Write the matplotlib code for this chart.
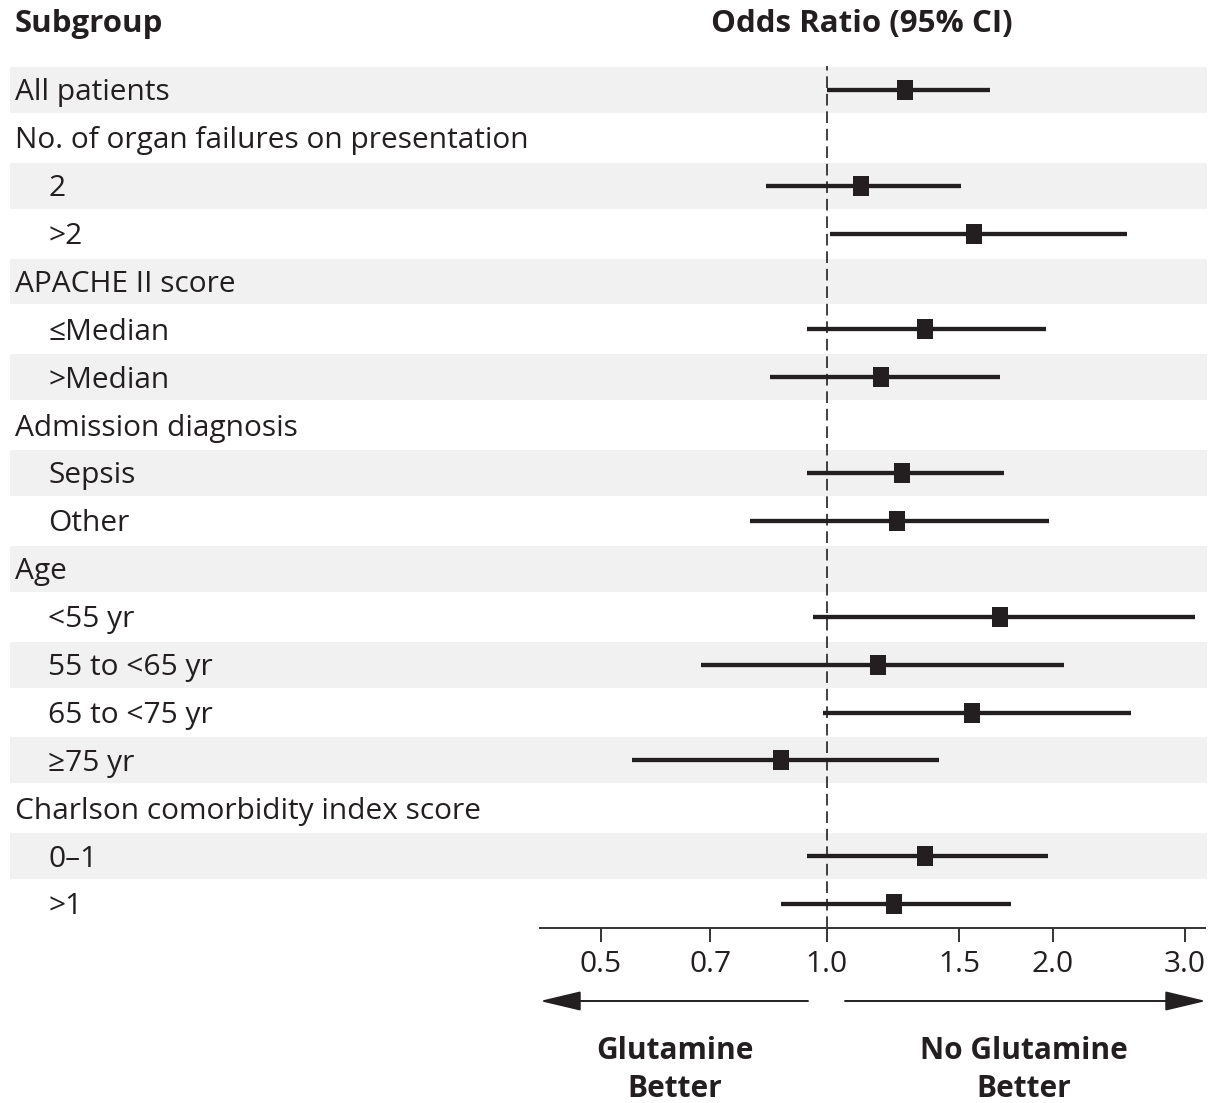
import numpy as np
import matplotlib
matplotlib.use("Agg")
import matplotlib.pyplot as plt
from matplotlib import transforms
from matplotlib.patches import FancyArrowPatch
from matplotlib.path import Path

plt.rcParams['font.family'] = ['Open Sans', 'DejaVu Sans']

# Subgroup rows (top to bottom); header rows have no estimate
labels = ["All patients", "No. of organ failures on presentation", "2", ">2",
          "APACHE II score", "\u2264Median", ">Median",
          "Admission diagnosis", "Sepsis", "Other",
          "Age", "<55 yr", "55 to <65 yr", "65 to <75 yr", "\u226575 yr",
          "Charlson comorbidity index score", "0\u20131", ">1"]
indented = [False, False, True, True,
            False, True, True,
            False, True, True,
            False, True, True, True, True,
            False, True, True]
odds_ratio = [1.27, None, 1.11, 1.57, None, 1.35, 1.18, None, 1.26, 1.24,
              None, 1.70, 1.17, 1.56, 0.87, None, 1.35, 1.23]
ci_low = [1.00, None, 0.83, 1.01, None, 0.94, 0.84, None, 0.94, 0.79,
          None, 0.96, 0.68, 0.99, 0.55, None, 0.94, 0.87]
ci_high = [1.65, None, 1.51, 2.51, None, 1.96, 1.70, None, 1.72, 1.98,
           None, 3.09, 2.07, 2.54, 1.41, None, 1.97, 1.76]
tick_values = [0.5, 0.7, 1.0, 1.5, 2.0, 3.0]
tick_labels = ["0.5", "0.7", "1.0", "1.5", "2.0", "3.0"]
x_limits = (0.415, 3.19)

W, H = 1209, 1103
fig = plt.figure(figsize=(W / 100, H / 100), dpi=100)

INK = "#231f20"
BAND = "#f1f1f1"
FS = 21.5
FS_HEAD = 22.5

def fx(px):
    return px / W

def fy(py):
    return 1 - py / H

n = len(labels)
top_px, bot_px = 66, 928

# background axes for alternating bands and row labels
ax_bg = fig.add_axes([fx(10), fy(bot_px), fx(1207 - 10), (bot_px - top_px) / H])
ax_bg.set_xlim(0, 1)
ax_bg.set_ylim(n - 0.5, -0.5)
ax_bg.axis("off")
for i in range(0, n, 2):
    ax_bg.axhspan(i - 0.48, i + 0.48, color=BAND, lw=0, zorder=0)

lab_trans = transforms.blended_transform_factory(fig.transFigure, ax_bg.transData)
lab_trans = transforms.offset_copy(lab_trans, fig=fig, y=-7.5, units="points")
for i, (lab, ind) in enumerate(zip(labels, indented)):
    x = fx(48) if ind else fx(15)
    fig.text(x, i, lab, transform=lab_trans, fontsize=FS, color=INK,
             ha="left", va="baseline")

# forest plot axes
ax = fig.add_axes([fx(540), fy(bot_px), fx(1205 - 540), (bot_px - top_px) / H])
ax.patch.set_alpha(0)
ax.set_xscale("log")
ax.set_xlim(*x_limits)
ax.set_ylim(n - 0.5, -0.5)

ax.axvline(1.0, color=INK, lw=1.2, dashes=(7, 3.5), zorder=1)

rect = Path([(-2.4, -3), (2.4, -3), (2.4, 3), (-2.4, 3), (-2.4, -3)],
            [Path.MOVETO, Path.LINETO, Path.LINETO, Path.LINETO, Path.CLOSEPOLY])
for i in range(n):
    if odds_ratio[i] is None:
        continue
    ax.plot([ci_low[i], ci_high[i]], [i, i], color=INK, lw=3.1,
            solid_capstyle="butt", zorder=2)
    ax.plot([odds_ratio[i]], [i], marker=rect, markersize=14, color=INK,
            markeredgewidth=0, zorder=3)

for side in ("top", "right", "left"):
    ax.spines[side].set_visible(False)
ax.spines["bottom"].set_color("#333333")
ax.spines["bottom"].set_linewidth(1.4)
ax.set_yticks([])
ax.xaxis.set_minor_locator(matplotlib.ticker.NullLocator())
ax.set_xticks(tick_values)
ax.set_xticklabels(tick_labels)
ax.tick_params(axis="x", direction="out", length=10, width=1.4,
               color="#333333", labelsize=FS, labelcolor=INK, pad=6)

# headers
fig.text(fx(15), fy(24), "Subgroup", fontsize=FS_HEAD, fontweight="bold",
         color=INK, ha="left", va="center")
fig.text(fx(862), fy(24), "Odds Ratio (95% CI)", fontsize=FS_HEAD,
         fontweight="bold", color=INK, ha="center", va="center")

# direction arrows
for x0, x1 in ((808, 540), (845, 1206)):
    arr = FancyArrowPatch((fx(x0), fy(1001)), (fx(x1), fy(1001)),
                          transform=fig.transFigure,
                          arrowstyle="-|>,head_length=1.6,head_width=0.38",
                          mutation_scale=16, color=INK, lw=1.4,
                          shrinkA=0, shrinkB=0)
    fig.add_artist(arr)

fig.text(fx(675), fy(1070), "Glutamine\nBetter", fontsize=FS,
         fontweight="bold", color=INK, ha="center", va="center",
         linespacing=1.38)
fig.text(fx(1024), fy(1070), "No Glutamine\nBetter", fontsize=FS,
         fontweight="bold", color=INK, ha="center", va="center",
         linespacing=1.38)

fig.savefig("out.png", dpi=100)
